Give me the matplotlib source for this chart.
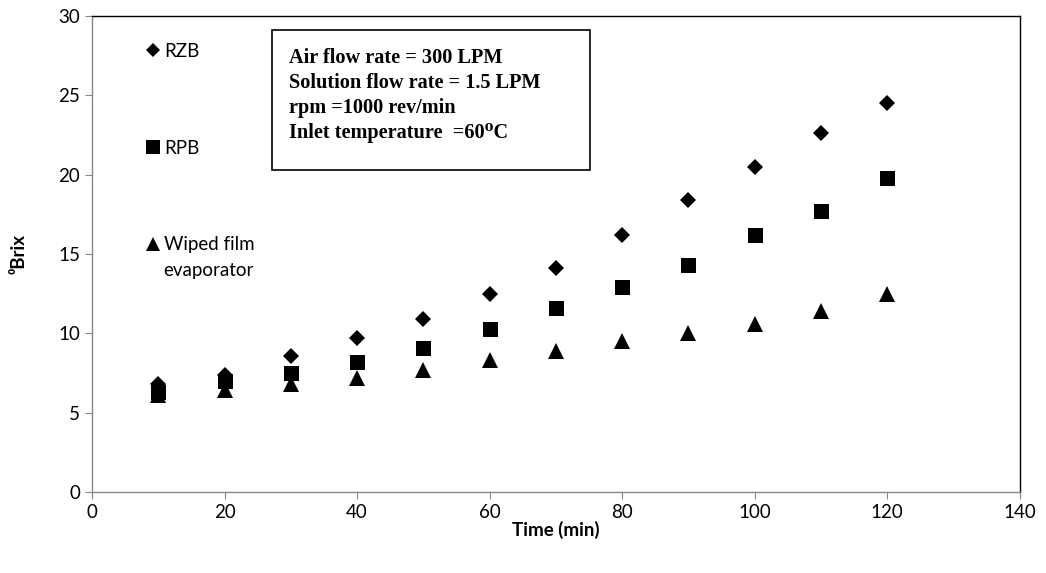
import matplotlib
matplotlib.use("Agg")
import matplotlib.pyplot as plt
from matplotlib.lines import Line2D
from matplotlib.patches import Rectangle

time_min = [10, 20, 30, 40, 50, 60, 70, 80, 90, 100, 110, 120]
rzb = [6.8, 7.4, 8.6, 9.7, 10.9, 12.5, 14.1, 16.2, 18.4, 20.5, 22.6, 24.5]
rpb = [6.3, 7.0, 7.5, 8.2, 9.1, 10.3, 11.6, 12.9, 14.3, 16.2, 17.7, 19.8]
wiped = [6.1, 6.4, 6.8, 7.2, 7.7, 8.3, 8.9, 9.5, 10.0, 10.6, 11.4, 12.5]
series_labels = ["RZB", "RPB", "Wiped film"]
x_ticks = [0, 20, 40, 60, 80, 100, 120, 140]
y_ticks = [0, 5, 10, 15, 20, 25, 30]
info_lines = ["Air flow rate = 300 LPM",
              "Solution flow rate = 1.5 LPM",
              "rpm =1000 rev/min",
              "Inlet temperature  =60\u2070C"]

sans = ["Lato", "DejaVu Sans"]
plt.rcParams['font.family'] = sans

fig = plt.figure(figsize=(10.46, 5.73), dpi=100)
ax = fig.add_axes([0.088, 0.1414, 0.887, 0.8306])

mk = dict(linestyle='none', color='black', markeredgewidth=0)
ax.plot(time_min, rzb, marker='D', markersize=7.7, **mk)
ax.plot(time_min, rpb, marker='s', markersize=10.8, **mk)
ax.plot(time_min, wiped, marker='^', markersize=11, **mk)

ax.set_xlim(0, 140)
ax.set_ylim(0, 30)
ax.set_xticks(x_ticks)
ax.set_yticks(y_ticks)
ax.tick_params(axis='both', labelsize=13.5, direction='out', length=5, color='#888888')
for s in ax.spines.values():
    s.set_color('black')
    s.set_linewidth(1.0)
ax.spines['bottom'].set_color('#888888')
ax.spines['left'].set_color('#888888')

ax.set_xlabel("Time (min)", fontsize=13.5, fontweight='bold', labelpad=0)
ax.set_ylabel("\u2070Brix", fontsize=13.5, fontweight='bold', labelpad=22)

handles = [Line2D([], [], marker='D', markersize=7.2, **mk),
           Line2D([], [], marker='s', markersize=9.5, **mk),
           Line2D([], [], marker='^', markersize=10.5, **mk)]
leg = ax.legend(handles, series_labels, loc='upper left', bbox_to_anchor=(0.042, 0.975),
                frameon=False, fontsize=13.5, labelspacing=4.25, handlelength=0.7,
                handletextpad=0.25, borderpad=0.3)
ax.text(0.0765, 0.466, "evaporator", transform=ax.transAxes, fontsize=13.5,
        ha='left', va='center')

ax.add_patch(Rectangle((0.194, 0.6765), 0.3426, 0.2945, transform=ax.transAxes,
                       facecolor='white', edgecolor='black', linewidth=1.2, zorder=3))
ax.text(0.2123, 0.932, "\n".join(info_lines), transform=ax.transAxes,
        fontsize=14.6, fontweight='bold', family=['Liberation Serif', 'DejaVu Serif'],
        va='top', ha='left', linespacing=1.33, zorder=4)

fig.savefig("out.png", dpi=100)
